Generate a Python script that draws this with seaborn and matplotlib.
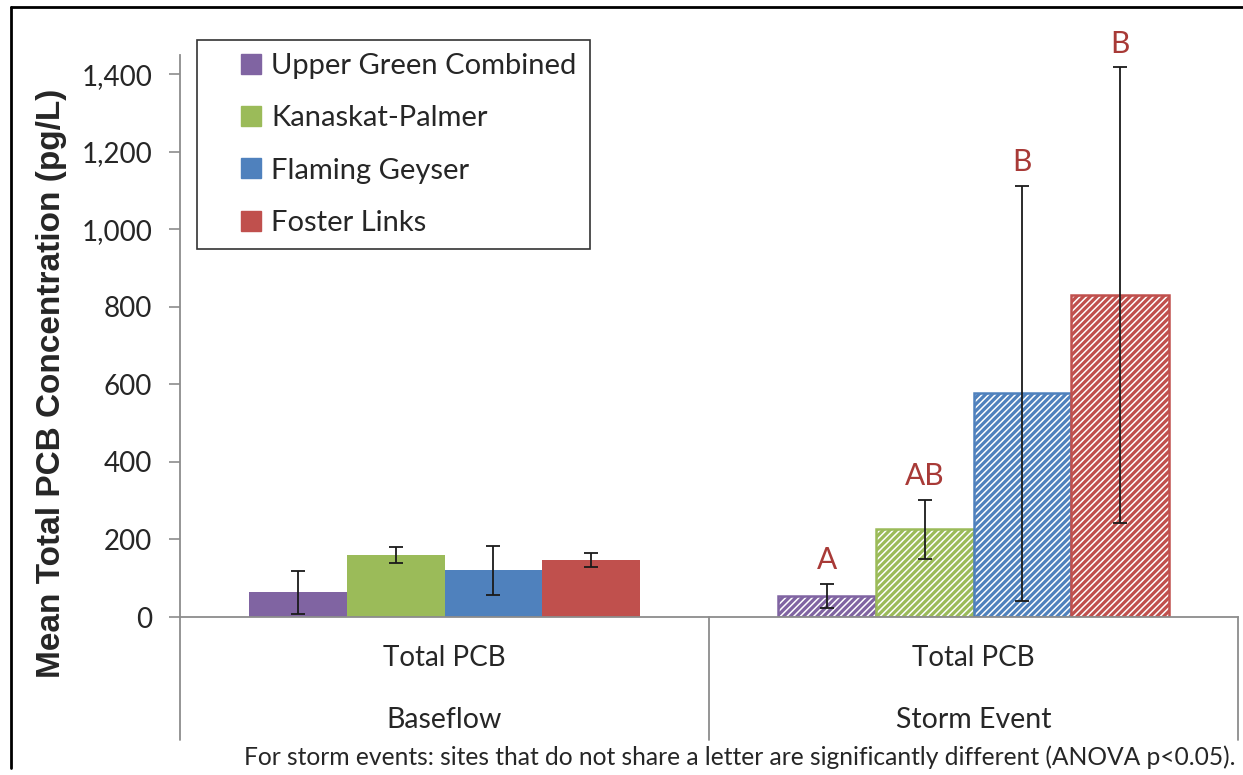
import pandas as pd
import numpy as np
import matplotlib
matplotlib.use("Agg")
import matplotlib.pyplot as plt
from matplotlib.lines import Line2D
from matplotlib.ticker import FuncFormatter
import seaborn as sns

# data
groups = ["Baseflow", "Storm Event"]
analyte = "Total PCB"
sites = ["Upper Green Combined", "Kanaskat-Palmer", "Flaming Geyser", "Foster Links"]
baseflow_mean = [64, 160, 120, 147]
baseflow_err = [55, 21, 63, 19]
storm_mean = [54, 226, 577, 830]
storm_err = [31, 77, 535, 588]
storm_letters = ["A", "AB", "B", "B"]
site_colors = ["#8064A2", "#9BBB59", "#4F81BD", "#C0504D"]
yticks = [0, 200, 400, 600, 800, 1000, 1200, 1400]
footnote = "For storm events: sites that do not share a letter are significantly different (ANOVA p<0.05)."

df = pd.DataFrame({
    "group": [groups[0]] * 4 + [groups[1]] * 4,
    "site": sites + sites,
    "mean": baseflow_mean + storm_mean,
    "err": baseflow_err + storm_err,
})

sns.set_theme(style="white")
plt.rcParams["font.family"] = ["Lato", "DejaVu Sans"]
plt.rcParams["hatch.linewidth"] = 2.3

grey = "#8C8C8C"
letter_red = "#A83A37"

fig = plt.figure(figsize=(12.43, 7.75), dpi=100)
ax = fig.add_axes([180 / 1243, (775 - 617) / 775, (1238 - 180) / 1243, (617 - 55) / 775])

palette = dict(zip(sites, site_colors))
sns.barplot(data=df, x="group", y="mean", hue="site", order=groups, hue_order=sites,
            palette=palette, saturation=1, width=0.74, gap=0, errorbar=None,
            linewidth=0, legend=False, ax=ax)

# hatch the storm bars, add error bars and letters
bar_conts = list(ax.containers)
for i, cont in enumerate(bar_conts):
    for j, bar in enumerate(cont.patches):
        cx = bar.get_x() + bar.get_width() / 2
        sub = df[(df.site == sites[i]) & (df.group == groups[j])].iloc[0]
        if j == 1:
            bar.set_facecolor("white")
            bar.set_edgecolor(site_colors[i])
            bar.set_hatch("/////")
            bar.set_linewidth(1.8)
            ax.text(cx, sub["mean"] + sub["err"] + 25, storm_letters[i], ha="center", va="bottom",
                    fontsize=21.5, color=letter_red)
        ax.errorbar(cx, sub["mean"], yerr=sub["err"], fmt="none", ecolor="#1a1a1a",
                    elinewidth=1.3, capsize=5, capthick=1.3, zorder=5)

ax.set_xlim(-0.5, 1.5)
ax.set_ylim(0, 1450)
ax.set_yticks(yticks)
ax.yaxis.set_major_formatter(FuncFormatter(lambda v, p: f"{int(v):,}"))
ax.tick_params(axis="y", which="major", direction="out", length=8, width=1.2, color=grey,
               labelsize=20, pad=12, left=True)
ax.tick_params(axis="x", length=0, labelsize=20, pad=20)
ax.set_xticks([0, 1])
ax.set_xticklabels([analyte, analyte])
ax.set_xlabel("")
ax.set_ylabel("Mean Total PCB Concentration (pg/L)", fontsize=24, fontweight="bold",
              family="Liberation Sans")
ax.yaxis.set_label_coords((67 - 180) / 1058, (617 - 383) / 562)

for s in ["top", "right"]:
    ax.spines[s].set_visible(False)
for s in ["left", "bottom"]:
    ax.spines[s].set_color(grey)
    ax.spines[s].set_linewidth(1.3)

# category separators and outer group labels
drop = -(740 - 617) / (617 - 55)
for xa in [0, 0.5, 1]:
    ax.plot([xa, xa], [0, drop], transform=ax.transAxes, color=grey, lw=1.3, clip_on=False)
for k, g in enumerate(groups):
    ax.text(k, drop * 0.84, g, transform=ax.get_xaxis_transform(), ha="center", va="center",
            fontsize=20.5)

handles = [Line2D([], [], ls="none", marker="s", markersize=14.5, color=c, label=s)
           for s, c in zip(sites, site_colors)]
leg = ax.legend(handles=handles, loc="upper left",
                bbox_to_anchor=((197 - 180) / 1058, (617 - 40) / 562),
                fontsize=21, frameon=True, fancybox=False, edgecolor="black",
                handlelength=2.8, handletextpad=-0.7,
                labelspacing=0.9, borderpad=0.45, borderaxespad=0)
leg.get_frame().set_linewidth(1.2)

fig.text(1235 / 1243, 1 - 757 / 775, footnote, ha="right", va="center", fontsize=17.7)

# outer chart border
fig.add_artist(Line2D([11 / 1243, 11 / 1243], [1 - 7 / 775, 1 - 768 / 775], color="black", lw=2))
fig.add_artist(Line2D([11 / 1243, 1], [1 - 7 / 775, 1 - 7 / 775], color="black", lw=2))

plt.savefig("out.png", dpi=100)
